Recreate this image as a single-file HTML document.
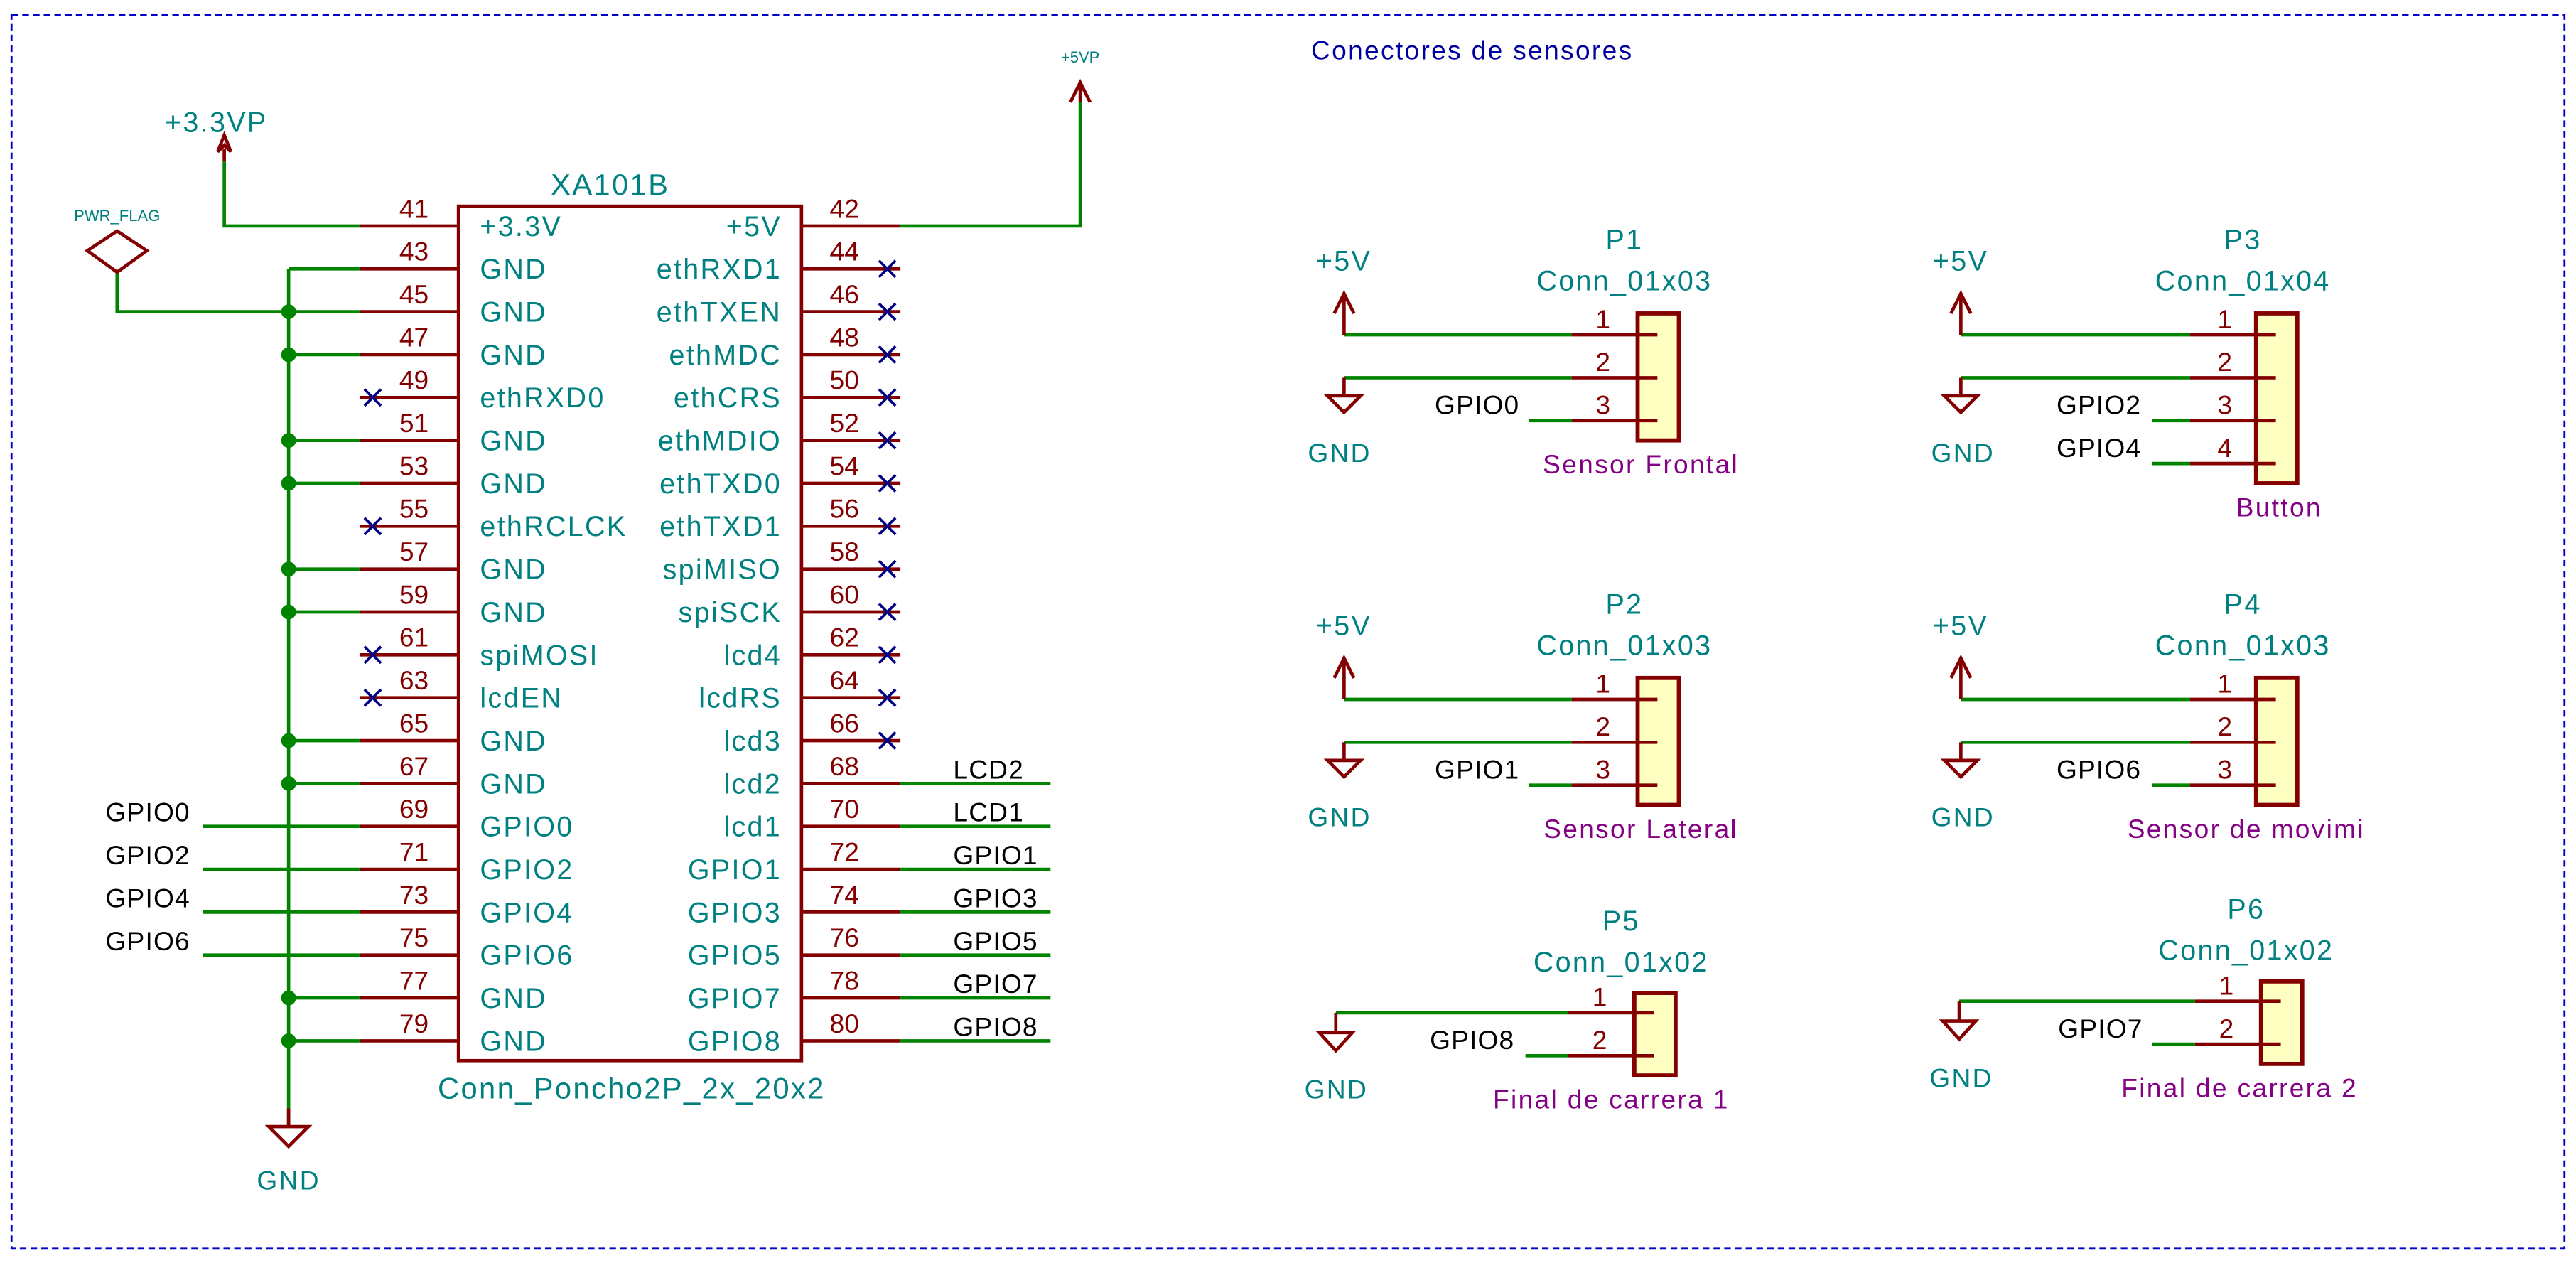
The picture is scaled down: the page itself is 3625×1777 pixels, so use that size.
<!DOCTYPE html>
<html><head><meta charset="utf-8"><style>
html,body{margin:0;padding:0;background:#fff;width:3625px;height:1777px;overflow:hidden}
svg{display:block}
text{font-family:"Liberation Sans",sans-serif}
.t{fill:#008080;font-size:17px;letter-spacing:1px}
.n{fill:#840000;font-size:16px;text-anchor:middle}
.k{fill:#000;font-size:16px;letter-spacing:0.5px}
.m{fill:#840084;font-size:16px;letter-spacing:1px;text-anchor:middle}
.p{stroke:#840000;stroke-width:2;fill:none}
.w{stroke:#008400;stroke-width:2;fill:none}
.x{stroke:#000084;stroke-width:1.6}
</style></head><body>
<svg width="3625" height="1777" viewBox="0 0 1562 765.7" preserveAspectRatio="none" xmlns="http://www.w3.org/2000/svg">
<rect x="7" y="9" width="1548" height="748" fill="none" stroke="#0000c8" stroke-width="1.2" stroke-dasharray="4,2.5"/>
<text x="795" y="36" style="fill:#0000a0;font-size:16px;letter-spacing:1px">Conectores de sensores</text>

<!-- main box -->
<rect x="278" y="125" width="208" height="518" fill="none" stroke="#840000" stroke-width="2"/>
<text x="370" y="118" class="t" text-anchor="middle" style="font-size:18px">XA101B</text>
<text x="383" y="666" class="t" text-anchor="middle" style="font-size:18px">Conn_Poncho2P_2x_20x2</text>

<!-- left pins lines -->
<g class="p">
<path d="M218 137H278M218 163H278M218 189H278M218 215H278M218 241H278M218 267H278M218 293H278M218 319H278M218 345H278M218 371H278M218 397H278M218 423H278M218 449H278M218 475H278M218 501H278M218 527H278M218 553H278M218 579H278M218 605H278M218 631H278"/>
<path d="M486 137H546M486 163H546M486 189H546M486 215H546M486 241H546M486 267H546M486 293H546M486 319H546M486 345H546M486 371H546M486 397H546M486 423H546M486 449H546M486 475H546M486 501H546M486 527H546M486 553H546M486 579H546M486 605H546M486 631H546"/>
</g>
<!-- left numbers -->
<g class="n">
<text x="251" y="132">41</text><text x="251" y="158">43</text><text x="251" y="184">45</text><text x="251" y="210">47</text><text x="251" y="236">49</text><text x="251" y="262">51</text><text x="251" y="288">53</text><text x="251" y="314">55</text><text x="251" y="340">57</text><text x="251" y="366">59</text><text x="251" y="392">61</text><text x="251" y="418">63</text><text x="251" y="444">65</text><text x="251" y="470">67</text><text x="251" y="496">69</text><text x="251" y="522">71</text><text x="251" y="548">73</text><text x="251" y="574">75</text><text x="251" y="600">77</text><text x="251" y="626">79</text>
<text x="512" y="132">42</text><text x="512" y="158">44</text><text x="512" y="184">46</text><text x="512" y="210">48</text><text x="512" y="236">50</text><text x="512" y="262">52</text><text x="512" y="288">54</text><text x="512" y="314">56</text><text x="512" y="340">58</text><text x="512" y="366">60</text><text x="512" y="392">62</text><text x="512" y="418">64</text><text x="512" y="444">66</text><text x="512" y="470">68</text><text x="512" y="496">70</text><text x="512" y="522">72</text><text x="512" y="548">74</text><text x="512" y="574">76</text><text x="512" y="600">78</text><text x="512" y="626">80</text>
</g>
<!-- left names -->
<g class="t">
<text x="291" y="143">+3.3V</text><text x="291" y="169">GND</text><text x="291" y="195">GND</text><text x="291" y="221">GND</text><text x="291" y="247">ethRXD0</text><text x="291" y="273">GND</text><text x="291" y="299">GND</text><text x="291" y="325">ethRCLCK</text><text x="291" y="351">GND</text><text x="291" y="377">GND</text><text x="291" y="403">spiMOSI</text><text x="291" y="429">lcdEN</text><text x="291" y="455">GND</text><text x="291" y="481">GND</text><text x="291" y="507">GPIO0</text><text x="291" y="533">GPIO2</text><text x="291" y="559">GPIO4</text><text x="291" y="585">GPIO6</text><text x="291" y="611">GND</text><text x="291" y="637">GND</text>
</g>
<g class="t" text-anchor="end">
<text x="474" y="143">+5V</text><text x="474" y="169">ethRXD1</text><text x="474" y="195">ethTXEN</text><text x="474" y="221">ethMDC</text><text x="474" y="247">ethCRS</text><text x="474" y="273">ethMDIO</text><text x="474" y="299">ethTXD0</text><text x="474" y="325">ethTXD1</text><text x="474" y="351">spiMISO</text><text x="474" y="377">spiSCK</text><text x="474" y="403">lcd4</text><text x="474" y="429">lcdRS</text><text x="474" y="455">lcd3</text><text x="474" y="481">lcd2</text><text x="474" y="507">lcd1</text><text x="474" y="533">GPIO1</text><text x="474" y="559">GPIO3</text><text x="474" y="585">GPIO5</text><text x="474" y="611">GPIO7</text><text x="474" y="637">GPIO8</text>
</g>
<!-- NC marks -->
<g class="x">
<path d="M221 236l10 10M231 236l-10 10M221 314l10 10M231 314l-10 10M221 392l10 10M231 392l-10 10M221 418l10 10M231 418l-10 10"/>
<path d="M533 158l10 10M543 158l-10 10M533 184l10 10M543 184l-10 10M533 210l10 10M543 210l-10 10M533 236l10 10M543 236l-10 10M533 262l10 10M543 262l-10 10M533 288l10 10M543 288l-10 10M533 314l10 10M543 314l-10 10M533 340l10 10M543 340l-10 10M533 366l10 10M543 366l-10 10M533 392l10 10M543 392l-10 10M533 418l10 10M543 418l-10 10M533 444l10 10M543 444l-10 10"/>
</g>
<!-- wires -->
<g class="w">
<path d="M175 163H218M175 163V683M175 189H218M175 215H218M175 267H218M175 293H218M175 345H218M175 371H218M175 449H218M175 475H218M175 605H218M175 631H218"/>
<path d="M71 165V189H175"/>
<path d="M218 137H136V98"/>
<path d="M546 137H655V62"/>
<path d="M123 501H218M123 527H218M123 553H218M123 579H218"/>
<path d="M546 475H637M546 501H637M546 527H637M546 553H637M546 579H637M546 605H637M546 631H637"/>
</g>
<g fill="#008400">
<circle cx="175" cy="189" r="4.5"/><circle cx="175" cy="215" r="4.5"/><circle cx="175" cy="267" r="4.5"/><circle cx="175" cy="293" r="4.5"/><circle cx="175" cy="345" r="4.5"/><circle cx="175" cy="371" r="4.5"/><circle cx="175" cy="449" r="4.5"/><circle cx="175" cy="475" r="4.5"/><circle cx="175" cy="605" r="4.5"/><circle cx="175" cy="631" r="4.5"/>
</g>
<g class="k">
<text x="64" y="498">GPIO0</text><text x="64" y="524">GPIO2</text><text x="64" y="550">GPIO4</text><text x="64" y="576">GPIO6</text>
<text x="578" y="472">LCD2</text><text x="578" y="498">LCD1</text><text x="578" y="524">GPIO1</text><text x="578" y="550">GPIO3</text><text x="578" y="576">GPIO5</text><text x="578" y="602">GPIO7</text><text x="578" y="628">GPIO8</text>
</g>
<!-- GND main -->
<path class="p" d="M175 672V683M163 683H187L175 695Z"/>
<text x="175" y="721" class="t" text-anchor="middle" style="font-size:16px">GND</text>
<!-- PWR_FLAG -->
<path class="p" d="M71 140L89 152L71 165L53 152Z"/>
<text x="71" y="134" style="fill:#008080;font-size:9.5px" text-anchor="middle">PWR_FLAG</text>
<!-- +3.3VP -->
<path class="p" d="M136 98V90M132 92L136 82L140 92L136 88Z"/>
<text x="100" y="80" class="t">+3.3VP</text>
<!-- +5VP -->
<path class="p" d="M655 62V50M649 62L655 50L661 62"/>
<text x="655" y="38" style="fill:#008080;font-size:9.5px" text-anchor="middle">+5VP</text>

<!-- P1 -->
<g>
<text x="985" y="151" class="t" text-anchor="middle">P1</text><text x="985" y="176" class="t" text-anchor="middle">Conn_01x03</text>
<rect x="993" y="190" width="25" height="77" fill="#ffffc2" stroke="#840000" stroke-width="2.5"/>
<path class="p" d="M953 203H1005M953 229H1005M953 255H1005"/>
<g class="n"><text x="972" y="199">1</text><text x="972" y="225">2</text><text x="972" y="251">3</text></g>
<path class="w" d="M815 203H953M815 229H953M927 255H953"/>
<path class="p" d="M815 203V178M809 190L815 178L821 190M815 229V240M805 240H825L815 250Z"/>
<text x="798" y="164" class="t">+5V</text><text x="793" y="280" class="t" style="font-size:16px">GND</text>
<text x="870" y="251" class="k">GPIO0</text>
<text x="995" y="287" class="m">Sensor Frontal</text>
</g>
<!-- P3 -->
<g>
<text x="1360" y="151" class="t" text-anchor="middle">P3</text><text x="1360" y="176" class="t" text-anchor="middle">Conn_01x04</text>
<rect x="1368" y="190" width="25" height="103" fill="#ffffc2" stroke="#840000" stroke-width="2.5"/>
<path class="p" d="M1328 203H1380M1328 229H1380M1328 255H1380M1328 281H1380"/>
<g class="n"><text x="1349" y="199">1</text><text x="1349" y="225">2</text><text x="1349" y="251">3</text><text x="1349" y="277">4</text></g>
<path class="w" d="M1189 203H1328M1189 229H1328M1305 255H1328M1305 281H1328"/>
<path class="p" d="M1189 203V178M1183 190L1189 178L1195 190M1189 229V240M1179 240H1199L1189 250Z"/>
<text x="1172" y="164" class="t">+5V</text><text x="1171" y="280" class="t" style="font-size:16px">GND</text>
<text x="1247" y="251" class="k">GPIO2</text><text x="1247" y="277" class="k">GPIO4</text>
<text x="1382" y="313" class="m">Button</text>
</g>
<!-- P2 -->
<g>
<text x="985" y="372" class="t" text-anchor="middle">P2</text><text x="985" y="397" class="t" text-anchor="middle">Conn_01x03</text>
<rect x="993" y="411" width="25" height="77" fill="#ffffc2" stroke="#840000" stroke-width="2.5"/>
<path class="p" d="M953 424H1005M953 450H1005M953 476H1005"/>
<g class="n"><text x="972" y="420">1</text><text x="972" y="446">2</text><text x="972" y="472">3</text></g>
<path class="w" d="M815 424H953M815 450H953M927 476H953"/>
<path class="p" d="M815 424V399M809 411L815 399L821 411M815 450V461M805 461H825L815 471Z"/>
<text x="798" y="385" class="t">+5V</text><text x="793" y="501" class="t" style="font-size:16px">GND</text>
<text x="870" y="472" class="k">GPIO1</text>
<text x="995" y="508" class="m">Sensor Lateral</text>
</g>
<!-- P4 -->
<g>
<text x="1360" y="372" class="t" text-anchor="middle">P4</text><text x="1360" y="397" class="t" text-anchor="middle">Conn_01x03</text>
<rect x="1368" y="411" width="25" height="77" fill="#ffffc2" stroke="#840000" stroke-width="2.5"/>
<path class="p" d="M1328 424H1380M1328 450H1380M1328 476H1380"/>
<g class="n"><text x="1349" y="420">1</text><text x="1349" y="446">2</text><text x="1349" y="472">3</text></g>
<path class="w" d="M1189 424H1328M1189 450H1328M1305 476H1328"/>
<path class="p" d="M1189 424V399M1183 411L1189 399L1195 411M1189 450V461M1179 461H1199L1189 471Z"/>
<text x="1172" y="385" class="t">+5V</text><text x="1171" y="501" class="t" style="font-size:16px">GND</text>
<text x="1247" y="472" class="k">GPIO6</text>
<text x="1362" y="508" class="m">Sensor de movimi</text>
</g>
<!-- P5 -->
<g>
<text x="983" y="564" class="t" text-anchor="middle">P5</text><text x="983" y="589" class="t" text-anchor="middle">Conn_01x02</text>
<rect x="991" y="602" width="25" height="50" fill="#ffffc2" stroke="#840000" stroke-width="2.5"/>
<path class="p" d="M951 614H1003M951 640H1003"/>
<g class="n"><text x="970" y="610">1</text><text x="970" y="636">2</text></g>
<path class="w" d="M810 614H951M925 640H951"/>
<path class="p" d="M810 614V626M800 626H820L810 637Z"/>
<text x="791" y="666" class="t" style="font-size:16px">GND</text>
<text x="867" y="636" class="k">GPIO8</text>
<text x="977" y="672" class="m">Final de carrera 1</text>
</g>
<!-- P6 -->
<g>
<text x="1362" y="557" class="t" text-anchor="middle">P6</text><text x="1362" y="582" class="t" text-anchor="middle">Conn_01x02</text>
<rect x="1371" y="595" width="25" height="50" fill="#ffffc2" stroke="#840000" stroke-width="2.5"/>
<path class="p" d="M1331 607H1383M1331 633H1383"/>
<g class="n"><text x="1350" y="603">1</text><text x="1350" y="629">2</text></g>
<path class="w" d="M1188 607H1331M1305 633H1331"/>
<path class="p" d="M1188 607V619M1178 619H1198L1188 630Z"/>
<text x="1170" y="659" class="t" style="font-size:16px">GND</text>
<text x="1248" y="629" class="k">GPIO7</text>
<text x="1358" y="665" class="m">Final de carrera 2</text>
</g>
</svg>
</body></html>
